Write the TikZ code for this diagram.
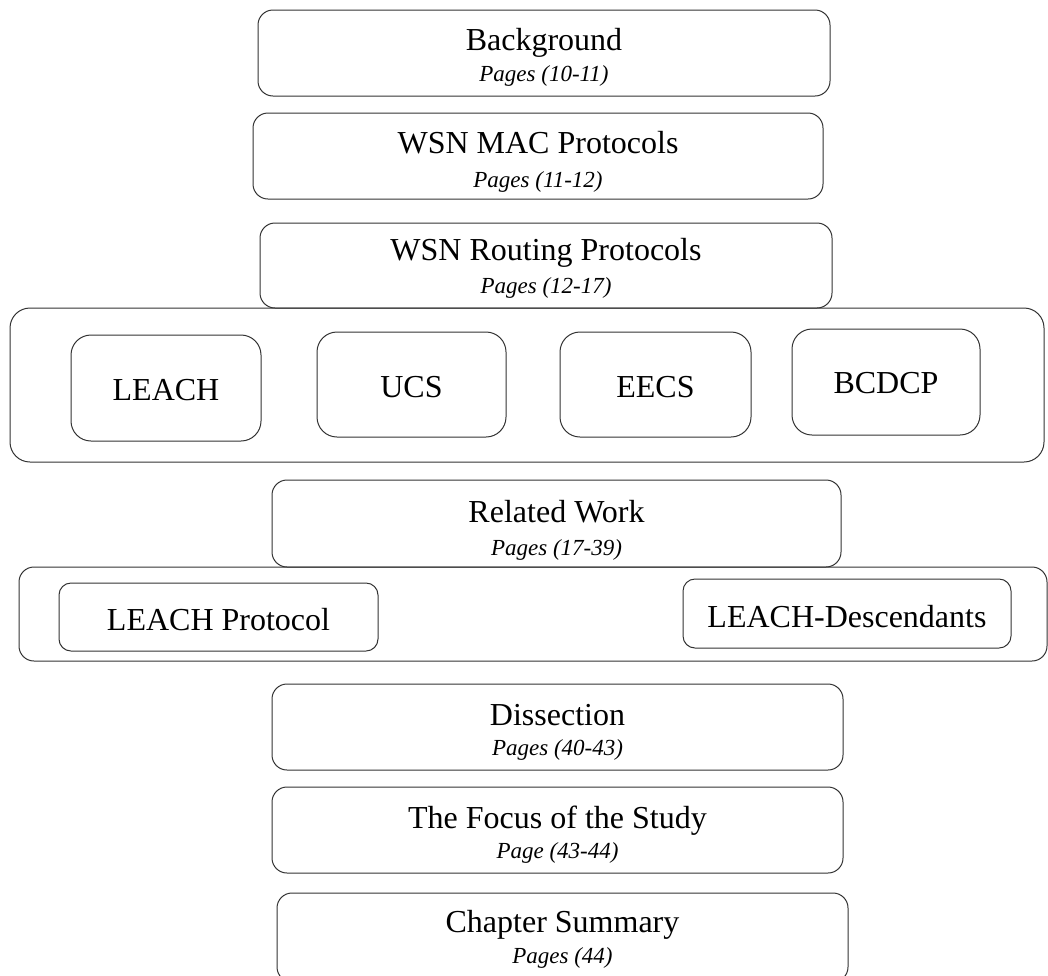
\documentclass[tikz,border=0pt]{standalone}
\usepackage{fontspec}
\setmainfont{Liberation Serif}
\begin{document}
\begin{tikzpicture}[x=1pt, y=-1pt,
  box/.style={draw=black!80, line width=1pt, rounded corners=15pt,
              inner sep=0pt, outer sep=0pt, fill=none},
  group/.style={box, rounded corners=20pt},
  inbox/.style={box, rounded corners=20pt},
  smallbox/.style={box, rounded corners=12pt},
  title/.style={anchor=base, inner sep=0pt, font=\fontsize{32}{38}\selectfont},
  pages/.style={anchor=base, inner sep=0pt, font=\fontsize{23}{27}\selectfont\itshape}]

\useasboundingbox (0,0) rectangle (1048,975);
\clip (0,0) rectangle (1048,975);

% chapter sections
\node[box, minimum width=572pt, minimum height=86pt] (bg) at (544,53) {};
\node[title] (bg-t) at (544,50) {Background};
\node[pages] (bg-p) at (544,81) {Pages (10-11)};

\node[box, minimum width=570pt, minimum height=86pt] (mac) at (538,156) {};
\node[title] (mac-t) at (538,153) {WSN MAC Protocols};
\node[pages] (mac-p) at (538,187) {Pages (11-12)};

\node[box, minimum width=572pt, minimum height=85pt] (rt) at (546,265.5) {};
\node[title] (rt-t) at (546,260) {WSN Routing Protocols};
\node[pages] (rt-p) at (546,293) {Pages (12-17)};

% routing protocols group
\node[group, minimum width=1034pt, minimum height=154pt] (rtgroup) at (527,385) {};
\node[inbox, minimum width=190pt, minimum height=106pt] (leach) at (166,388) {};
\node[title] (leach-t) at (166,400) {LEACH};
\node[inbox, minimum width=189pt, minimum height=105pt] (ucs) at (411.5,384.5) {};
\node[title] (ucs-t) at (411.5,397) {UCS};
\node[inbox, minimum width=191pt, minimum height=105pt] (eecs) at (655.5,384.5) {};
\node[title] (eecs-t) at (655.5,397) {EECS};
\node[inbox, minimum width=188pt, minimum height=106pt] (bcdcp) at (886,382) {};
\node[title] (bcdcp-t) at (886,393) {BCDCP};

\node[box, minimum width=569pt, minimum height=87pt] (rw) at (556.5,523.5) {};
\node[title] (rw-t) at (556.5,522) {Related Work};
\node[pages] (rw-p) at (556.5,555) {Pages (17-39)};

% related work group
\node[box, minimum width=1028pt, minimum height=94pt] (rwgroup) at (533,614) {};
\node[smallbox, minimum width=319pt, minimum height=68pt] (lp) at (218.5,617) {};
\node[title] (lp-t) at (218.5,630) {LEACH Protocol};
\node[smallbox, minimum width=328pt, minimum height=69pt] (ld) at (847,613.5) {};
\node[title] (ld-t) at (847,627) {LEACH-Descendants};

\node[box, minimum width=571pt, minimum height=86pt] (dis) at (557.5,727) {};
\node[title] (dis-t) at (557.5,725) {Dissection};
\node[pages] (dis-p) at (557.5,755) {Pages (40-43)};

\node[box, minimum width=571pt, minimum height=86pt] (foc) at (557.5,830) {};
\node[title] (foc-t) at (557.5,828) {The Focus of the Study};
\node[pages] (foc-p) at (557.5,858) {Page (43-44)};

% last box runs past the lower edge of the page
\node[box, minimum width=571pt, minimum height=89pt] (sum) at (562.5,937.5) {};
\node[title] (sum-t) at (562.5,932) {Chapter Summary};
\node[pages] (sum-p) at (562.5,963) {Pages (44)};

\end{tikzpicture}
\end{document}
